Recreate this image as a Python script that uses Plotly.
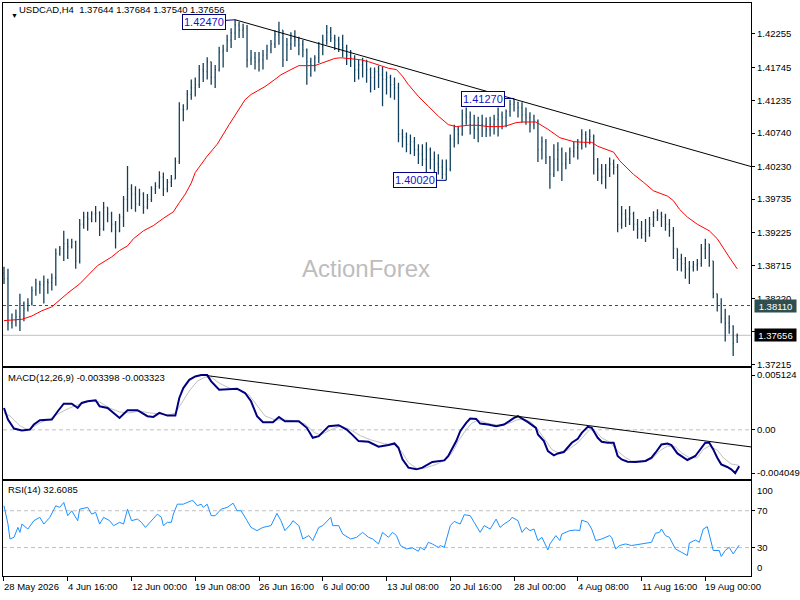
import plotly.graph_objects as go

# ---------------- data ----------------
# bar index (one bar every second H4 bar)
bar_n = list(range(0, 369, 2))

# prices in pips (x 1e-4)
open_p = [
13860, 13852, 13784, 13788, 13794, 13814, 13806, 13814, 13834, 13844,
13843, 13847, 13846, 13853, 13890, 13898, 13905, 13901, 13908, 13879,
13935, 13946, 13943, 13951, 13952, 13928, 13961, 13951, 13935, 13925,
13946, 13973, 13989, 13981, 13966, 13981, 13961, 13973, 13989, 13993,
14007, 13989, 13999, 14004, 14031, 14110, 14110, 14133, 14143, 14148,
14171, 14168, 14183, 14159, 14171, 14198, 14201, 14216, 14227, 14239,
14231, 14234, 14186, 14189, 14183, 14186, 14193, 14201, 14210, 14224,
14231, 14186, 14209, 14219, 14216, 14209, 14201, 14183, 14178, 14189,
14206, 14216, 14228, 14219, 14216, 14209, 14204, 14193, 14189, 14171,
14178, 14183, 14171, 14159, 14168, 14163, 14156, 14159, 14148, 14143,
14072, 14068, 14057, 14061, 14049, 14042, 14034, 14049, 14034, 14027,
14022, 14011, 14019, 14065, 14080, 14072, 14102, 14098, 14087, 14080,
14087, 14087, 14080, 14087, 14095, 14102, 14098, 14107, 14118, 14121,
14113, 14102, 14098, 14087, 14092, 14049, 14061, 14037, 14011, 14034,
14049, 14027, 14034, 14046, 14052, 14057, 14072, 14065, 14069, 14034,
14019, 14007, 14019, 14027, 14022, 13935, 13951, 13943, 13951, 13935,
13928, 13920, 13925, 13935, 13946, 13951, 13946, 13935, 13925, 13898,
13882, 13875, 13867, 13870, 13873, 13875, 13898, 13905, 13879, 13829,
13814, 13791, 13784, 13779, 13764.4]
high_p = [
13870, 13867, 13799, 13805, 13829, 13817, 13822, 13840, 13852, 13849,
13857, 13852, 13860, 13898, 13902, 13925, 13913, 13913, 13910, 13943,
13954, 13954, 13955, 13963, 13955, 13969, 13961, 13954, 13940, 13951,
13978, 14024, 13996, 13993, 13989, 13984, 13981, 13993, 13999, 14016,
14014, 14004, 14010, 14037, 14121, 14118, 14140, 14156, 14159, 14178,
14181, 14190, 14183, 14178, 14206, 14209, 14224, 14234, 14247, 14244,
14241, 14239, 14201, 14198, 14198, 14201, 14209, 14216, 14231, 14244,
14231, 14219, 14228, 14231, 14221, 14216, 14203, 14189, 14193, 14213,
14224, 14239, 14236, 14224, 14221, 14224, 14209, 14201, 14193, 14186,
14189, 14186, 14174, 14174, 14177, 14175, 14168, 14163, 14159, 14151,
14080, 14075, 14072, 14068, 14057, 14057, 14060, 14052, 14046, 14042,
14034, 14034, 14072, 14087, 14084, 14110, 14113, 14107, 14102, 14099,
14102, 14098, 14099, 14102, 14113, 14107, 14110, 14125, 14127, 14122,
14121, 14113, 14106, 14102, 14095, 14069, 14065, 14039, 14057, 14060,
14052, 14045, 14052, 14061, 14065, 14080, 14077, 14080, 14072, 14036,
14027, 14027, 14037, 14034, 14027, 13963, 13958, 13963, 13954, 13943,
13940, 13943, 13946, 13955, 13958, 13954, 13951, 13943, 13931, 13898,
13890, 13885, 13879, 13879, 13882, 13905, 13913, 13905, 13879, 13829,
13822, 13806, 13796, 13781, 13768.4]
low_p = [
13844, 13773, 13776, 13779, 13772, 13787, 13802, 13811, 13826, 13829,
13814, 13829, 13834, 13841, 13887, 13879, 13882, 13898, 13867, 13875,
13928, 13925, 13938, 13938, 13917, 13925, 13938, 13923, 13898, 13923,
13931, 13954, 13958, 13954, 13963, 13951, 13958, 13969, 13981, 13989,
13978, 13984, 13992, 14004, 14027, 14092, 14110, 14125, 14130, 14143,
14152, 14156, 14148, 14143, 14168, 14174, 14198, 14204, 14216, 14219,
14219, 14174, 14178, 14171, 14168, 14171, 14186, 14196, 14204, 14209,
14175, 14184, 14201, 14206, 14193, 14190, 14148, 14160, 14168, 14181,
14193, 14209, 14213, 14201, 14198, 14190, 14178, 14175, 14152, 14156,
14159, 14151, 14136, 14140, 14143, 14115, 14133, 14128, 14125, 14060,
14052, 14045, 14042, 14039, 14027, 14024, 14007, 14019, 14014, 14011,
14004, 14002, 14016, 14052, 14057, 14070, 14087, 14072, 14065, 14060,
14068, 14068, 14069, 14072, 14069, 14080, 14083, 14099, 14107, 14098,
14090, 14087, 14075, 14080, 14030, 14034, 14027, 13989, 14007, 14016,
14001, 14019, 14027, 14037, 14034, 14049, 14052, 14057, 14011, 14001,
13996, 13989, 14007, 14011, 13923, 13928, 13931, 13934, 13925, 13913,
13913, 13908, 13916, 13931, 13940, 13931, 13925, 13916, 13882, 13864,
13863, 13852, 13844, 13863, 13864, 13870, 13882, 13870, 13822, 13802,
13784, 13756, 13768, 13734, 13754.0]
close_p = [
13852, 13784, 13788, 13794, 13814, 13806, 13814, 13834, 13844, 13843,
13847, 13846, 13853, 13890, 13898, 13905, 13901, 13908, 13879, 13935,
13946, 13943, 13951, 13952, 13928, 13961, 13951, 13935, 13925, 13946,
13973, 13989, 13981, 13966, 13981, 13961, 13973, 13989, 13993, 14007,
13989, 13999, 14004, 14031, 14110, 14110, 14133, 14143, 14148, 14171,
14168, 14183, 14159, 14171, 14198, 14201, 14216, 14227, 14239, 14231,
14234, 14186, 14189, 14183, 14186, 14193, 14201, 14210, 14224, 14231,
14186, 14209, 14219, 14216, 14209, 14201, 14183, 14178, 14189, 14206,
14216, 14228, 14219, 14216, 14209, 14204, 14193, 14189, 14171, 14178,
14183, 14171, 14159, 14168, 14163, 14156, 14159, 14148, 14143, 14072,
14068, 14057, 14061, 14049, 14042, 14034, 14049, 14034, 14027, 14022,
14011, 14019, 14065, 14080, 14072, 14102, 14098, 14087, 14080, 14087,
14087, 14080, 14087, 14095, 14102, 14098, 14107, 14118, 14121, 14113,
14102, 14098, 14087, 14092, 14049, 14061, 14037, 14011, 14034, 14049,
14027, 14034, 14046, 14052, 14057, 14072, 14065, 14069, 14034, 14019,
14007, 14019, 14027, 14022, 13935, 13951, 13943, 13951, 13935, 13928,
13920, 13925, 13935, 13946, 13951, 13946, 13935, 13925, 13898, 13882,
13875, 13867, 13870, 13873, 13875, 13898, 13905, 13879, 13829, 13814,
13791, 13784, 13779, 13753, 13765.6]

# moving average (red)
ma_bar = [0, 4, 9, 14, 19, 24, 27, 32, 38, 44, 47, 54, 58, 62, 65, 70, 75, 80, 85, 88,
          91, 94, 96, 102, 107, 113, 116, 121, 124, 131, 136, 139, 144, 148, 156, 161,
          166, 169, 173, 179, 183, 188, 193, 197, 200, 203, 208, 213, 218, 223, 227,
          230, 233, 238, 243, 250, 253, 257, 260, 267, 270, 273, 279, 286, 291, 295,
          298, 303, 306, 309, 316, 321, 326, 333, 336, 339, 343, 348, 354, 358, 361,
          364, 368]
ma_pips = [13788, 13789, 13790, 13795, 13803, 13809, 13817, 13830, 13844, 13862, 13872,
           13885, 13895, 13902, 13913, 13925, 13933, 13944, 13954, 13968, 13981, 13998,
           14014, 14039, 14057, 14087, 14102, 14125, 14133, 14145, 14156, 14163, 14171,
           14177, 14177, 14183, 14188, 14189, 14188, 14186, 14183, 14178, 14173, 14171,
           14161, 14148, 14130, 14115, 14100, 14087, 14084, 14085, 14086, 14086, 14084,
           14084, 14086, 14090, 14091, 14091, 14086, 14080, 14067, 14061, 14060, 14060,
           14054, 14049, 14045, 14032, 14011, 13999, 13986, 13978, 13971, 13958, 13946,
           13935, 13925, 13913, 13898, 13885, 13867]

# trend line on price and swing labels
trend_bar = [116, 375]
trend_price = [1.42470, 1.40230]
swing_bar = [116, 222, 256]
swing_price = [1.42470, 1.40020, 1.41270]
level_dashed = 1.38110
level_bid = 1.37656

price_ticks = [1.42255, 1.41745, 1.41235, 1.40740, 1.40230, 1.39735, 1.39225,
               1.38715, 1.38220, 1.37710, 1.37215]

# MACD
macd_bar = [0, 2, 5, 9, 13, 15, 18, 24, 27, 30, 34, 37, 39, 42, 46, 48, 52, 55, 58, 62,
            67, 72, 75, 78, 82, 86, 88, 90, 93, 96, 99, 102, 104, 108, 113, 117, 121, 124,
            127, 130, 135, 138, 141, 148, 152, 155, 158, 163, 168, 172, 175, 178, 183,
            188, 193, 196, 198, 200, 203, 207, 210, 215, 221, 223, 227, 229, 232, 234,
            237, 239, 243, 247, 251, 253, 256, 258, 261, 263, 267, 268, 271, 273, 276,
            278, 281, 283, 285, 288, 290, 293, 295, 298, 300, 303, 306, 308, 310, 313,
            317, 322, 325, 327, 330, 333, 335, 338, 342, 343, 347, 349, 352, 354, 356,
            358, 360, 363, 365, 367, 369]
macd_main = [0.002050, 0.000960, 0.000121, -0.000065, 0.000028, 0.000494, 0.000904,
             0.000960, 0.001742, 0.002450, 0.002450, 0.002050, 0.002515, 0.002674,
             0.002767, 0.002208, 0.002050, 0.001584, 0.001118, 0.001835, 0.001835,
             0.001276, 0.001211, 0.001584, 0.001332, 0.001332, 0.002981, 0.003913,
             0.004686, 0.005003, 0.005124, 0.005124, 0.004537, 0.003754, 0.003820,
             0.003848, 0.003447, 0.002674, 0.001276, 0.000717, 0.000717, 0.001211,
             0.000810, 0.000810, 0.000186, -0.000745, -0.000587, 0.000345, 0.000438,
             0.000028, -0.000494, -0.001053, -0.001118, -0.001584, -0.001425, -0.001276,
             -0.001677, -0.002767, -0.003540, -0.003698, -0.003540, -0.003009, -0.002860,
             -0.002450, -0.001053, -0.000121, 0.000652, 0.001053, 0.001025, 0.000587,
             0.000494, 0.000345, 0.000494, 0.000745, 0.001118, 0.001276, 0.000960,
             0.000717, 0.000186, -0.000438, -0.001053, -0.001984, -0.002394, -0.002208,
             -0.002077, -0.001677, -0.001211, -0.000838, -0.000279, 0.000279, 0.000186,
             -0.000745, -0.001118, -0.001211, -0.001211, -0.002450, -0.002767, -0.002981,
             -0.003009, -0.002916, -0.002608, -0.002143, -0.001369, -0.001276, -0.001425,
             -0.002208, -0.002767, -0.002823, -0.002450, -0.001984, -0.001211, -0.001211,
             -0.001835, -0.002608, -0.003233, -0.003475, -0.003698, -0.004049, -0.003398]
sig_bar = [0, 3, 8, 12, 18, 23, 28, 33, 38, 43, 48, 53, 58, 63, 68, 73, 78, 83, 86, 89,
           93, 97, 101, 104, 108, 113, 118, 123, 127, 131, 136, 141, 146, 151, 156, 159,
           164, 169, 174, 179, 184, 191, 196, 200, 203, 208, 212, 217, 222, 225, 228,
           232, 235, 238, 243, 248, 253, 258, 262, 265, 268, 272, 275, 278, 283, 288,
           292, 294, 297, 300, 304, 308, 312, 315, 320, 325, 329, 333, 337, 340, 344,
           348, 351, 354, 358, 361, 365, 369]
macd_signal = [0.001584, 0.001304, 0.000373, 0.0, 0.000652, 0.001025, 0.001584, 0.002050,
               0.002422, 0.002702, 0.002608, 0.002050, 0.001677, 0.001584, 0.001770,
               0.001584, 0.001491, 0.001397, 0.001584, 0.002515, 0.003633, 0.004565,
               0.004937, 0.004937, 0.004379, 0.003913, 0.003726, 0.003261, 0.002236,
               0.001304, 0.000932, 0.000932, 0.000838, 0.000559, -0.000279, -0.000466,
               0.0, 0.000373, 0.0, -0.000559, -0.000932, -0.001304, -0.001397, -0.002143,
               -0.003074, -0.003698, -0.003540, -0.003233, -0.002767, -0.002143, -0.001053,
               0.000028, 0.000652, 0.000904, 0.000587, 0.000438, 0.000587, 0.000960,
               0.000960, 0.000652, 0.000028, -0.001053, -0.001835, -0.002143, -0.001891,
               -0.001211, -0.000438, 0.000028, -0.000121, -0.000745, -0.001146, -0.001984,
               -0.002608, -0.002916, -0.002916, -0.002767, -0.001984, -0.001519, -0.001584,
               -0.002143, -0.002608, -0.002608, -0.001835, -0.001519, -0.001891, -0.002608,
               -0.003200, -0.003323]
macd_trend_bar = [100, 375]
macd_trend_val = [0.005124, -0.00160]
macd_ticks = [0.005124, 0.0, -0.004049]
macd_tick_text = ["0.005124", "0.00", "-0.004049"]

# RSI
rsi_bar = [0, 2, 3, 5, 7, 8, 9, 12, 15, 18, 20, 23, 26, 28, 30, 32, 34, 37, 38, 42,
           44, 46, 48, 50, 53, 55, 58, 60, 62, 64, 67, 69, 71, 74, 77, 79, 80, 82, 84, 85,
           87, 90, 94, 95, 97, 99, 100, 102, 104, 106, 109, 112, 115, 117, 119, 122, 124,
           127, 130, 134, 137, 139, 141, 144, 145, 148, 150, 153, 155, 158, 160, 164, 165,
           168, 170, 174, 177, 180, 183, 185, 188, 190, 193, 195, 197, 199, 202, 205, 208,
           209, 211, 213, 215, 218, 219, 221, 224, 226, 229, 231, 234, 236, 239, 241, 244,
           247, 249, 251, 254, 255, 258, 260, 262, 264, 266, 268, 270, 273, 274, 277, 279,
           280, 284, 287, 289, 290, 293, 295, 297, 300, 304, 305, 307, 309, 312, 315, 320,
           323, 325, 327, 329, 330, 332, 334, 337, 340, 343, 344, 347, 349, 351, 353, 354,
           356, 359, 360, 362, 364, 366, 369]
rsi_val = [75.4, 55.5, 39.3, 41.1, 51.9, 46.5, 55.5, 50.1, 59.2, 62.8, 55.5, 62.8, 75.4,
           73.6, 79.0, 64.6, 70.0, 59.2, 71.7, 73.6, 66.3, 68.2, 55.5, 62.8, 59.2, 53.8,
           57.4, 55.5, 71.7, 59.2, 60.9, 57.4, 51.9, 59.2, 66.3, 62.8, 53.8, 57.4, 57.4,
           66.3, 77.1, 77.1, 80.8, 80.8, 75.4, 77.1, 73.6, 77.1, 64.6, 64.6, 71.7, 73.6,
           78.2, 70.0, 70.0, 59.2, 51.9, 48.4, 51.9, 53.8, 67.1, 59.2, 48.4, 55.5, 59.2,
           53.8, 39.3, 43.0, 37.6, 51.9, 53.8, 62.8, 53.8, 53.8, 44.7, 39.3, 41.1, 46.5,
           41.1, 39.3, 33.9, 46.5, 41.1, 46.5, 43.0, 32.2, 28.5, 29.6, 26.0, 30.3, 27.4,
           35.7, 33.9, 30.3, 32.2, 30.3, 53.8, 58.4, 55.5, 65.7, 64.6, 57.4, 46.5, 53.8,
           50.1, 60.9, 51.9, 55.5, 59.8, 62.8, 59.2, 46.5, 51.9, 48.4, 50.1, 37.6, 41.1,
           27.4, 33.9, 43.0, 37.6, 44.7, 48.4, 49.0, 48.4, 59.8, 57.4, 50.1, 37.6, 39.3,
           43.0, 41.1, 28.5, 32.2, 33.9, 32.2, 33.9, 35.7, 35.7, 45.5, 46.5, 50.1, 43.0,
           41.1, 28.5, 24.9, 21.4, 35.0, 38.2, 35.7, 50.1, 52.7, 43.0, 26.8, 26.8, 20.3,
           26.8, 30.3, 23.1, 32.6085]
rsi_levels = [70, 30]

date_bar = [0, 32, 64, 96, 128, 160, 192, 224, 256, 288, 320, 352]
date_text = ["28 May 2026", "4 Jun 16:00", "12 Jun 00:00", "19 Jun 08:00",
             "26 Jun 16:00", "6 Jul 00:00", "13 Jul 08:00", "20 Jul 16:00",
             "28 Jul 00:00", "4 Aug 08:00", "11 Aug 16:00", "19 Aug 00:00"]

title_price = "USDCAD,H4\u00a0\u00a01.37644 1.37684 1.37540 1.37656"
title_macd = "MACD(12,26,9) -0.003398 -0.003323"
title_rsi = "RSI(14) 32.6085"

# ---------------- layout helpers ----------------
W, H = 800, 600
def fx(p): return p / W
def fy(p): return 1 - p / H

FONT = "Liberation Sans, Arial, sans-serif"
FS = 9.5
BAR_COL = "#12405C"

fig = go.Figure()

fig.add_trace(go.Ohlc(
    x=bar_n,
    open=[v / 1e4 for v in open_p], high=[v / 1e4 for v in high_p],
    low=[v / 1e4 for v in low_p], close=[v / 1e4 for v in close_p],
    increasing=dict(line=dict(color=BAR_COL, width=1.3)),
    decreasing=dict(line=dict(color=BAR_COL, width=1.3)),
    tickwidth=0.2, xaxis="x", yaxis="y", showlegend=False, hoverinfo="skip"))

fig.add_trace(go.Scatter(x=ma_bar, y=[v / 1e4 for v in ma_pips], mode="lines",
                         line=dict(color="#FF0000", width=1), xaxis="x", yaxis="y",
                         showlegend=False, hoverinfo="skip"))
fig.add_trace(go.Scatter(x=trend_bar, y=trend_price, mode="lines",
                         line=dict(color="#000000", width=1), xaxis="x", yaxis="y",
                         showlegend=False, hoverinfo="skip"))

fig.add_trace(go.Scatter(x=sig_bar, y=macd_signal, mode="lines",
                         line=dict(color="#C0C0C0", width=1), xaxis="x2", yaxis="y2",
                         showlegend=False, hoverinfo="skip"))
fig.add_trace(go.Scatter(x=macd_bar, y=macd_main, mode="lines",
                         line=dict(color="#000080", width=2), xaxis="x2", yaxis="y2",
                         showlegend=False, hoverinfo="skip"))
fig.add_trace(go.Scatter(x=macd_trend_bar, y=macd_trend_val, mode="lines",
                         line=dict(color="#000000", width=1), xaxis="x2", yaxis="y2",
                         showlegend=False, hoverinfo="skip"))

fig.add_trace(go.Scatter(x=rsi_bar, y=rsi_val, mode="lines",
                         line=dict(color="#1E90FF", width=1), xaxis="x3", yaxis="y3",
                         showlegend=False, hoverinfo="skip"))

shapes = [
    dict(type="line", xref="x domain", yref="y", x0=0, x1=1, y0=level_dashed, y1=level_dashed,
         line=dict(color="#2F4F4F", width=1, dash="3px,3px"), layer="below"),
    dict(type="line", xref="x domain", yref="y", x0=0, x1=1, y0=level_bid, y1=level_bid,
         line=dict(color="#C0C0C0", width=1), layer="below"),
    dict(type="line", xref="x2 domain", yref="y2", x0=0, x1=1, y0=0, y1=0,
         line=dict(color="#C0C0C0", width=1, dash="4px,3px"), layer="below"),
]
for lv in rsi_levels:
    shapes.append(dict(type="line", xref="x3 domain", yref="y3", x0=0, x1=1, y0=lv, y1=lv,
                       line=dict(color="#C0C0C0", width=1, dash="4px,3px"), layer="below"))

ann = []
ann.append(dict(text="\u25BC", x=fx(9.5), y=fy(10.5), xref="paper", yref="paper",
                showarrow=False, font=dict(size=7, color="black", family=FONT)))
ann.append(dict(text=title_price, x=fx(17), y=fy(10), xref="paper", yref="paper",
                xanchor="left", yanchor="middle", showarrow=False,
                font=dict(size=FS, color="black", family=FONT)))
ann.append(dict(text=title_macd, x=fx(6), y=fy(379), xref="paper", yref="paper",
                xanchor="left", yanchor="middle", showarrow=False,
                font=dict(size=FS, color="black", family=FONT)))
ann.append(dict(text=title_rsi, x=fx(6), y=fy(492), xref="paper", yref="paper",
                xanchor="left", yanchor="middle", showarrow=False,
                font=dict(size=FS, color="black", family=FONT)))
ann.append(dict(text="ActionForex", x=fx(367), y=fy(270), xref="paper", yref="paper",
                showarrow=False, font=dict(size=24, color="#BDBDBD", family=FONT)))

for b, p, ay in zip(swing_bar, swing_price, [2, 0, 0.5]):
    ann.append(dict(text=f"{p:.5f}", x=b, y=p, xref="x", yref="y", showarrow=True,
                    ax=-31, ay=ay, arrowhead=0, arrowwidth=1, arrowcolor="#000080",
                    standoff=0, bordercolor="#000080", borderwidth=1, borderpad=1,
                    bgcolor="white", font=dict(size=11, color="#1515C8", family=FONT)))

ann.append(dict(text=f"{level_dashed:.5f}", x=fx(756), y=level_dashed, xref="paper",
                yref="y", xanchor="left", yanchor="middle", showarrow=False,
                bgcolor="#2F4F4F", width=39, height=10, borderpad=1,
                font=dict(size=FS, color="white", family=FONT)))
ann.append(dict(text=f"{level_bid:.5f}", x=fx(756), y=level_bid, xref="paper",
                yref="y", xanchor="left", yanchor="middle", showarrow=False,
                bgcolor="#000000", width=39, height=10, borderpad=1,
                font=dict(size=FS, color="white", family=FONT)))

ann.append(dict(text="100", x=fx(757), y=100, xref="paper", yref="y3", xanchor="left",
                yanchor="top", showarrow=False, font=dict(size=FS, color="black", family=FONT)))
ann.append(dict(text="0", x=fx(757), y=0, xref="paper", yref="y3", xanchor="left",
                yanchor="bottom", showarrow=False, font=dict(size=FS, color="black", family=FONT)))

for b, t in zip(date_bar, date_text):
    ann.append(dict(text=t, x=b, y=fy(582), xref="x3", yref="paper", xanchor="left",
                    yanchor="top", xshift=-2, showarrow=False,
                    font=dict(size=FS, color="black", family=FONT)))

XR = [-0.5, 375]
XD = [fx(3), fx(753)]
common_x = dict(domain=XD, range=XR, showgrid=False, zeroline=False, showline=True,
                mirror=True, linecolor="black", linewidth=1, fixedrange=True)
common_y = dict(side="right", showgrid=False, zeroline=False, showline=True, mirror=True,
                linecolor="black", linewidth=1, ticks="outside", ticklen=3,
                tickcolor="black", tickfont=dict(size=FS, color="black", family=FONT))

fig.update_layout(
    width=W, height=H, margin=dict(l=0, r=0, t=0, b=0),
    paper_bgcolor="white", plot_bgcolor="white", showlegend=False,
    font=dict(family=FONT, size=FS, color="black"),
    xaxis=dict(**common_x, anchor="y", showticklabels=False, ticks="",
               rangeslider=dict(visible=False)),
    xaxis2=dict(**common_x, anchor="y2", matches="x", showticklabels=False, ticks=""),
    xaxis3=dict(**common_x, anchor="y3", matches="x", showticklabels=False,
                ticks="outside", ticklen=4, tickcolor="black", tickvals=date_bar),
    yaxis=dict(**common_y, domain=[fy(368), fy(3)], range=[1.37185, 1.42726],
               tickvals=price_ticks, ticktext=[f"{v:.5f}" for v in price_ticks]),
    yaxis2=dict(**common_y, domain=[fy(481.7), fy(370)], range=[-0.00463, 0.005776],
                tickvals=macd_ticks, ticktext=macd_tick_text),
    yaxis3=dict(**common_y, domain=[fy(579), fy(483.3)], range=[-1.0, 102.4],
                tickvals=rsi_levels, ticktext=[str(v) for v in rsi_levels]),
    shapes=shapes, annotations=ann,
)

fig.write_html(
    "out.html",
    config={"responsive": False, "displayModeBar": False},
    post_script="document.body.style.margin='0px';document.body.style.padding='0px';"
                "document.documentElement.style.overflow='hidden';",
)
